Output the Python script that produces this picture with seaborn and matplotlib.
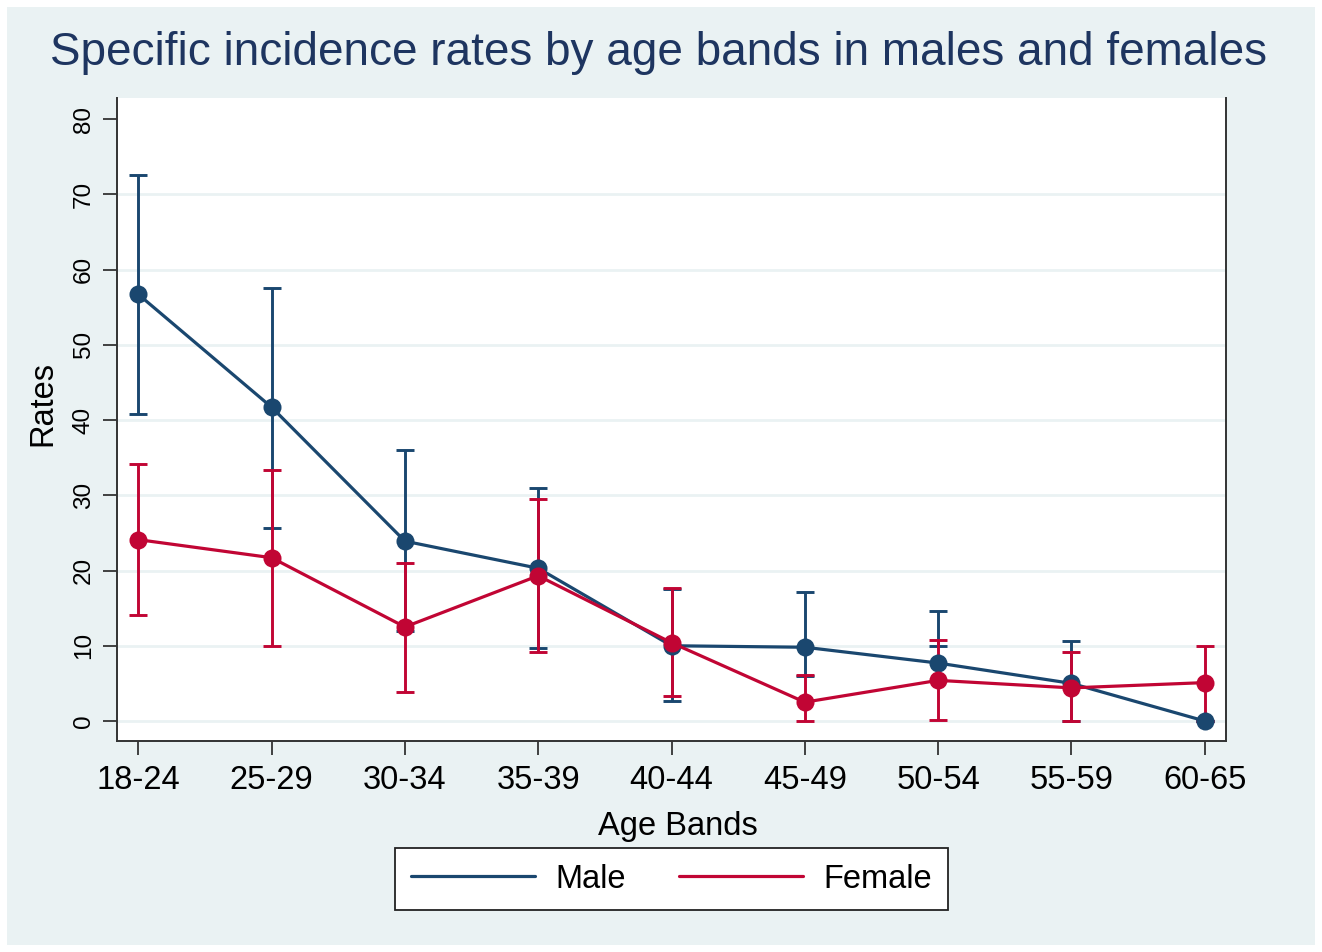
import numpy as np
import pandas as pd
import seaborn as sns
import matplotlib
matplotlib.use("Agg")
import matplotlib.pyplot as plt
from matplotlib.patches import Rectangle

# values
age_bands = ["18-24", "25-29", "30-34", "35-39", "40-44", "45-49", "50-54", "55-59", "60-65"]
male_rate = [56.7, 41.7, 23.9, 20.3, 10.0, 9.8, 7.7, 5.0, 0.0]
male_low = [40.8, 25.7, 11.9, 9.7, 2.6, 6.0, 10.0, 0.0, 0.0]
male_high = [72.5, 57.6, 36.0, 31.0, 17.5, 17.1, 14.6, 10.6, 0.0]
female_rate = [24.1, 21.7, 12.5, 19.3, 10.4, 2.5, 5.4, 4.4, 5.1]
female_low = [14.1, 10.0, 3.8, 9.2, 3.3, 0.0, 0.1, 0.0, 0.0]
female_high = [34.2, 33.4, 21.0, 29.5, 17.7, 6.1, 10.7, 9.2, 10.0]

navy = "#1a476f"
red = "#c10534"
bg = "#eaf2f3"

pos = np.arange(len(age_bands))
df = pd.DataFrame({
    "pos": np.concatenate([pos, pos]),
    "rate": male_rate + female_rate,
    "sex": ["Male"] * len(pos) + ["Female"] * len(pos),
})

sns.set_style("white")
plt.rcParams["font.family"] = ["Liberation Sans", "DejaVu Sans"]
plt.rcParams["text.color"] = "black"
plt.rcParams["axes.labelcolor"] = "black"
plt.rcParams["xtick.color"] = "black"
plt.rcParams["ytick.color"] = "black"

fig = plt.figure(figsize=(13.22, 9.52), dpi=100)
fig.patch.set_facecolor("white")
fig.add_artist(Rectangle((7 / 1322, 7 / 952), 1308 / 1322, 938 / 952,
                         transform=fig.transFigure, facecolor=bg,
                         edgecolor="none", zorder=-10))

ax = fig.add_axes([117 / 1322, 1 - 741 / 952, 1109 / 1322, 643 / 952])
ax.set_facecolor("white")


def range_caps(low, high, color, z):
    # Stata-style rcap: a capped bar from low to high
    low = np.array(low)
    high = np.array(high)
    ax.errorbar(pos, (low + high) / 2, yerr=(high - low) / 2, fmt="none",
                ecolor=color, elinewidth=2.1, capsize=6.5, capthick=2.1, zorder=z)


range_caps(male_low, male_high, navy, 2)
range_caps(female_low, female_high, red, 3)

sns.lineplot(data=df, x="pos", y="rate", hue="sex", hue_order=["Male", "Female"],
             palette={"Male": navy, "Female": red}, marker="o", markersize=13,
             markeredgewidth=0, linewidth=2.3, ax=ax, zorder=4, legend=False)

ax.set_xlim(-0.16, 8.16)
ax.set_ylim(-2.66, 82.8)
ax.set_xticks(pos)
ax.set_xticklabels(age_bands, fontsize=23.5)
ax.set_yticks(np.arange(0, 81, 10))
ax.set_yticklabels([str(v) for v in range(0, 81, 10)], fontsize=17.5, rotation=90, va="center")
ax.tick_params(axis="x", length=10, width=1.3, color="#333333", labelcolor="black",
               pad=7, direction="out", bottom=True)
ax.tick_params(axis="y", length=10, width=1.3, color="#333333", labelcolor="black",
               pad=6, direction="out", left=True)

ax.grid(axis="y", color=bg, linewidth=2.0)
ax.grid(axis="x", visible=False)
ax.yaxis.get_gridlines()[-1].set_visible(False)
ax.set_axisbelow(True)

for side in ["left", "bottom", "right"]:
    ax.spines[side].set_color("#333333")
    ax.spines[side].set_linewidth(1.4)
ax.spines["top"].set_visible(False)

ax.set_xlabel("Age Bands", fontsize=23.5, va="center", color="black")
ax.xaxis.set_label_coords((678 - 117) / 1109, (741 - 826) / 643)
ax.set_ylabel("Rates", fontsize=23.5, va="center", color="black")
ax.yaxis.set_label_coords((43 - 117) / 1109, (741 - 404) / 643)

fig.text(659 / 1322, 1 - 53 / 952, "Specific incidence rates by age bands in males and females",
         fontsize=33, color="#1e3560", ha="center", va="center")

handles = [plt.Line2D([], [], color=navy, linewidth=2.3),
           plt.Line2D([], [], color=red, linewidth=2.3)]
leg = fig.legend(handles, ["Male", "Female"], loc="center",
                 bbox_to_anchor=(671.5 / 1322, 1 - 879 / 952), ncol=2,
                 fontsize=23.5, handlelength=3.8, handletextpad=0.65,
                 columnspacing=1.6, borderpad=0.48, fancybox=False,
                 frameon=True, edgecolor="#222222", facecolor="white", framealpha=1)
leg.get_frame().set_linewidth(1.3)
for t in leg.get_texts():
    t.set_color("black")

fig.savefig("out.png", dpi=100)
